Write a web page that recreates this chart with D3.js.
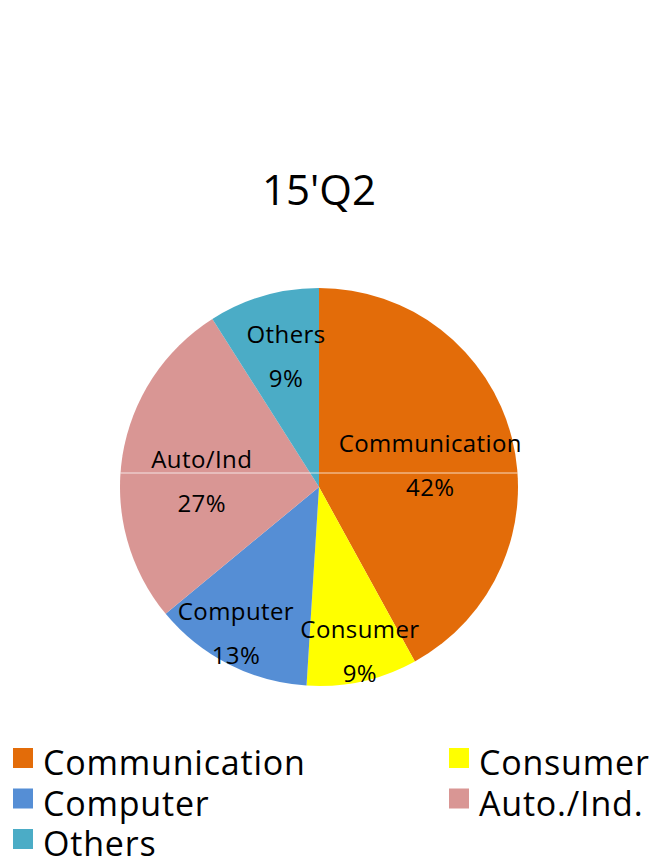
<!DOCTYPE html>
<html>
<head>
<meta charset="utf-8">
<script src="https://cdn.jsdelivr.net/npm/d3@7"></script>
<style>
  body { margin: 0; background: #fff; }
  svg { display: block; font-family: "Open Sans", "Noto Sans", sans-serif; }
</style>
</head>
<body>
<svg id="chart"></svg>
<script>
var width = 659,
    height = 863

// data
var categories = ["Communication", "Consumer", "Computer", "Auto/Ind", "Others"];
var shares = [42, 9, 13, 27, 9];
var legendNames = ["Communication", "Consumer", "Computer", "Auto./Ind.", "Others"];
var colors = ["#e36c09", "#ffff00", "#558ed5", "#d99694", "#4bacc6"];
var title = "15'Q2";

// label placement (Excel "best fit"): share of radius, and angle nudge in degrees
var labelDist = [0.57, 0.85, 0.845, 0.59, 0.68];
var labelTurn = [3.2, -1.4, 2.6, -6, 2.1];

var cx = 319, cy = 487, radius = 199;

var svg = d3.select("#chart")
    .attr("width", width)
    .attr("height", height);

svg.append("text")
    .attr("x", cx)
    .attr("y", 205)
    .attr("text-anchor", "middle")
    .style("font-size", "42px")
    .style("fill", "#000")
    .text(title);

var data = categories.map(function(c, i) { return {name: c, value: shares[i], i: i}; });

var pie = d3.pie()
    .sort(null)
    .value(function(d) { return d.value; });

var arc = d3.arc()
    .innerRadius(0)
    .outerRadius(radius);

var g = svg.append("g")
    .attr("transform", "translate(" + cx + "," + cy + ")");

var arcs = pie(data);

g.selectAll(".slice")
    .data(arcs)
    .enter()
    .append("path")
    .attr("class", "slice")
    .attr("d", arc)
    .style("fill", function(d) { return colors[d.data.i]; });

// faint scan line across the pie in the original image
var lineY = -14;
var half = Math.sqrt(radius * radius - lineY * lineY);
g.append("line")
    .attr("x1", -half).attr("x2", half)
    .attr("y1", lineY).attr("y2", lineY)
    .style("stroke", "#fff")
    .style("stroke-opacity", 0.75)
    .style("stroke-width", 1);

var labels = g.selectAll(".label")
    .data(arcs)
    .enter()
    .append("text")
    .attr("class", "label")
    .attr("text-anchor", "middle")
    .style("font-size", "24px")
    .style("letter-spacing", "0.4px")
    .style("fill", "#000")
    .attr("transform", function(d) {
      var r = radius * labelDist[d.data.i];
      var a = (d.startAngle + d.endAngle) / 2 + labelTurn[d.data.i] * Math.PI / 180;
      return "translate(" + (r * Math.sin(a)) + "," + (-r * Math.cos(a)) + ")";
    });

labels.append("tspan")
    .attr("x", 0)
    .attr("y", -13)
    .text(function(d) { return d.data.name; });

labels.append("tspan")
    .attr("x", 0)
    .attr("y", 31)
    .text(function(d) { return d.data.value + "%"; });

// legend: two columns, filled row by row
var legend = svg.append("g");
var item = legend.selectAll(".legend-item")
    .data(d3.range(legendNames.length))
    .enter()
    .append("g")
    .attr("class", "legend-item")
    .attr("transform", function(d, k) {
      var col = k % 2, row = Math.floor(k / 2);
      return "translate(" + (13 + col * 436) + "," + (748 + row * 40.5) + ")";
    });

item.append("rect")
    .attr("width", 20)
    .attr("height", 20)
    .style("fill", function(d) { return colors[d]; });

item.append("text")
    .attr("x", 30)
    .attr("y", 27)
    .style("font-size", "34px")
    .style("letter-spacing", "0.8px")
    .style("fill", "#000")
    .text(function(d) { return legendNames[d]; });
</script>
</body>
</html>
